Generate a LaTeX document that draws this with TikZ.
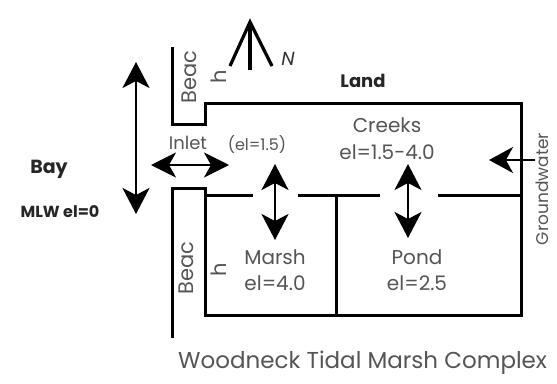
\documentclass[tikz,border=0pt]{standalone}
\usepackage{fontspec}
\setmainfont{Poppins}
\usetikzlibrary{arrows.meta}
\definecolor{txtgray}{HTML}{555555}
\tikzset{
  wall/.style={line width=3pt, line join=miter, black},
  bighead/.tip={Stealth[length=26pt,width=27pt,inset=7pt]},
  flow/.style={line width=2.4pt, {bighead}-{bighead}},
  flowone/.style={line width=1.6pt, -{Stealth[length=24pt,width=26pt,inset=7pt]}},
  lbl/.style={text=txtgray, inner sep=0pt, align=center, font=\fontsize{20}{24}\selectfont},
  bold/.style={text=black!85, inner sep=0pt, font=\bfseries},
}
\begin{document}
\begin{tikzpicture}[x=1pt,y=-1pt]
\useasboundingbox (0,0) rectangle (557,383);
\fill[white] (0,0) rectangle (557,383);
% outline walls
\draw[wall] (172,47) -- (172,124) -- (205,124) -- (205,103) -- (521,103) -- (521,315) -- (205,315) -- (205,188) -- (172,188) -- (172,338);
% creek dividers
\draw[wall] (205,195) -- (253,195);
\draw[wall] (298,195) -- (380,195);
\draw[wall] (438,195) -- (521,195);
\draw[wall] (336,195) -- (336,315);
% coordinates for arrows
\coordinate (bayT) at (136,62);
\coordinate (bayB) at (136,214);
\coordinate (inL) at (151,165);
\coordinate (inR) at (229,165);
\coordinate (mT) at (275,164);
\coordinate (mB) at (275,240);
\coordinate (pT) at (408,164);
\coordinate (pB) at (408,238);
\coordinate (gwS) at (535,160);
\coordinate (gwE) at (489,160);
\coordinate (nT) at (250,22);
\coordinate (nB) at (250,70);
\coordinate (nL) at (230,66);
\coordinate (nR) at (272,66);
\draw[flow] (bayT) -- (bayB);
\draw[line width=1.8pt, {Stealth[length=25pt,width=25pt,inset=7pt]}-{Stealth[length=25pt,width=25pt,inset=7pt]}] (inL) -- (inR);
\draw[flow] (mT) -- (mB);
\draw[flow] (pT) -- (pB);
\draw[flowone] (gwS) -- (gwE);
\draw[line width=3.2pt] (nB) -- (nT);
\draw[line width=3.2pt, line join=miter] (nL) -- (nT) -- (nR);
% labels
\node[inner sep=0pt, font=\fontsize{19}{22}\selectfont\itshape, text=black!80] (N) at (288,59) {N};
\node[bold, font=\bfseries\fontsize{18}{21}\selectfont] (land) at (363,81) {Land};
\node[bold, font=\bfseries\fontsize{19}{22}\selectfont] (bay) at (49,169) {Bay};
\node[bold, font=\bfseries\fontsize{16}{19}\selectfont] (mlw) at (60,212) {MLW el=0};
\node[lbl, font=\fontsize{18}{21}\selectfont] (inlet) at (188,143) {Inlet};
\node[lbl, font=\fontsize{16}{19}\selectfont] (inel) at (257,145) {(el=1.5)};
\node[lbl] (creeks) at (387,125) {Creeks};
\node[lbl] (creeksel) at (387,152) {el=1.5-4.0};
\node[lbl] (marsh) at (275,257) {Marsh};
\node[lbl] (marshel) at (275,283) {el=4.0};
\node[lbl] (pond) at (417,257) {Pond};
\node[lbl] (pondel) at (417,283) {el=2.5};
\node[lbl, rotate=90, font=\fontsize{21}{24}\selectfont] (beac1) at (189,77) {Beac};
\node[lbl, rotate=90, font=\fontsize{21}{24}\selectfont] (h1) at (219,77) {h};
\node[lbl, rotate=90, font=\fontsize{21}{24}\selectfont] (beac2) at (186,268) {Beac};
\node[lbl, rotate=90, font=\fontsize{21}{24}\selectfont] (h2) at (219,270) {h};
\node[lbl, rotate=90, anchor=south, font=\fontsize{17}{20}\selectfont] (gw) at (549,189) {Groundwater};
\node[lbl, font=\fontsize{23}{27}\selectfont, anchor=west] (title) at (178,363) {Woodneck Tidal Marsh Complex};
\end{tikzpicture}
\end{document}
